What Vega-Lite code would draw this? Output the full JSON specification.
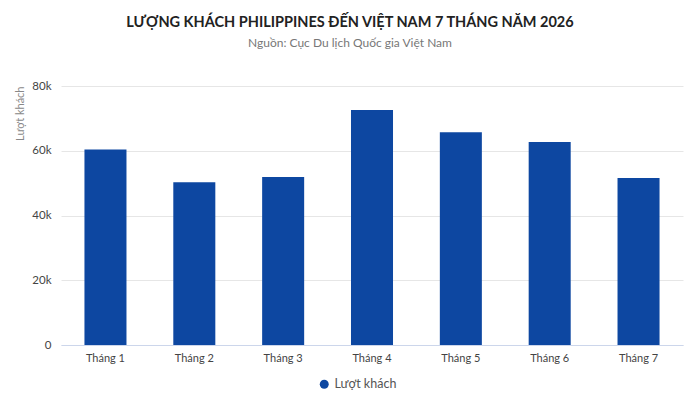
{
  "$schema": "https://vega.github.io/schema/vega-lite/v6.json",
  "autosize": "none",
  "width": 622,
  "height": 259,
  "padding": {"left": 61, "top": 86, "right": 17, "bottom": 59},
  "background": "white",
  "config": {
    "font": "Lato",
    "view": {"stroke": null}
  },
  "title": {
    "text": "LƯỢNG KHÁCH PHILIPPINES ĐẾN VIỆT NAM 7 THÁNG NĂM 2026",
    "subtitle": "Nguồn: Cục Du lịch Quốc gia Việt Nam",
    "anchor": "middle",
    "frame": "group",
    "dx": -22,
    "offset": 30,
    "fontSize": 14.5,
    "fontWeight": "bold",
    "color": "#222222",
    "subtitleFontSize": 12,
    "subtitleColor": "#777777",
    "subtitlePadding": 8
  },
  "data": {
    "values": [
      {"thang": "Tháng 1", "luot": 60400},
      {"thang": "Tháng 2", "luot": 50300},
      {"thang": "Tháng 3", "luot": 51900},
      {"thang": "Tháng 4", "luot": 72600},
      {"thang": "Tháng 5", "luot": 65700},
      {"thang": "Tháng 6", "luot": 62700},
      {"thang": "Tháng 7", "luot": 51600}
    ]
  },
  "mark": {"type": "bar"},
  "encoding": {
    "x": {
      "field": "thang",
      "type": "ordinal",
      "sort": null,
      "scale": {"paddingInner": 0.527, "paddingOuter": 0.264},
      "axis": {
        "title": null,
        "labelAngle": 0,
        "labelFontSize": 11,
        "labelColor": "#444444",
        "labelPadding": 7,
        "ticks": false,
        "domainColor": "#ccd6eb",
        "domainWidth": 1
      }
    },
    "y": {
      "field": "luot",
      "type": "quantitative",
      "scale": {"domain": [0, 80000], "nice": false},
      "axis": {
        "title": "Lượt khách",
        "titleAnchor": "end",
        "titleColor": "#888888",
        "titleFontSize": 11,
        "titleFontWeight": "normal",
        "titlePadding": 6,
        "values": [0, 20000, 40000, 60000, 80000],
        "labelExpr": "datum.value === 0 ? '0' : format(datum.value, '~s')",
        "labelFontSize": 11.5,
        "labelColor": "#444444",
        "labelPadding": 10,
        "ticks": false,
        "domain": false,
        "gridColor": "#e6e6e6"
      }
    },
    "color": {
      "datum": "Lượt khách",
      "type": "nominal",
      "scale": {"range": ["#0d47a1"]},
      "legend": {
        "title": null,
        "orient": "none",
        "legendX": 257,
        "legendY": 292,
        "direction": "horizontal",
        "symbolType": "circle",
        "symbolSize": 80,
        "labelFontSize": 12.5,
        "labelColor": "#555555"
      }
    }
  }
}
